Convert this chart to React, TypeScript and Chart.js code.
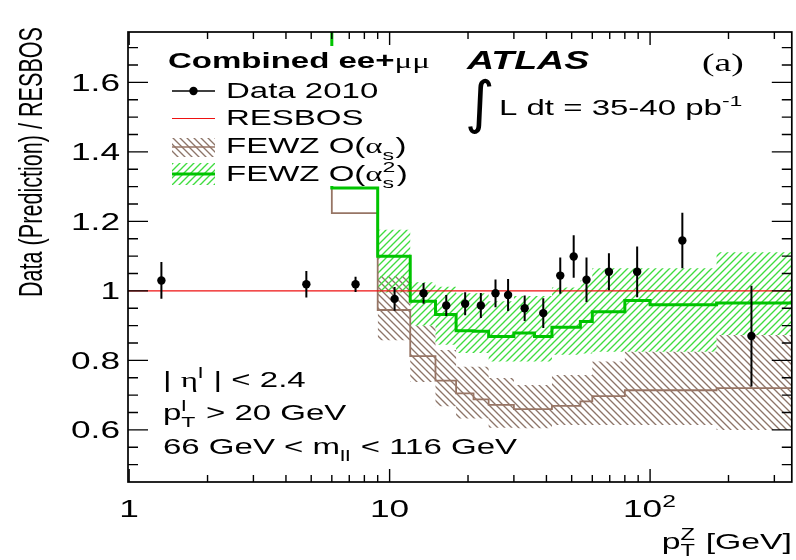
import React, { useEffect, useRef } from "react";
import { Chart, registerables } from "chart.js";

Chart.register(...registerables);

// ---------------- data ----------------
const dataX = [1.33, 4.79, 7.4, 10.45, 13.5, 16.5, 19.5, 22.4, 25.5, 28.5, 33, 38.9, 45.2, 50.9, 57, 69.5, 89.2, 133, 245];
const dataY = [1.03, 1.019, 1.019, 0.977, 0.993, 0.958, 0.963, 0.958, 0.993, 0.988, 0.95, 0.936, 1.044, 1.099, 1.032, 1.055, 1.055, 1.145, 0.87];
const dataErr = [0.053, 0.038, 0.022, 0.034, 0.03, 0.03, 0.033, 0.036, 0.04, 0.046, 0.037, 0.043, 0.052, 0.061, 0.064, 0.053, 0.073, 0.08, 0.145];

const fewzEdges = [3, 6, 9, 12, 15, 18, 21, 24, 27, 30, 36, 42, 48, 54, 60, 70, 80, 100, 180, 350];
const fewz2Central = [2.0, 1.296, 1.1, 0.97, 0.932, 0.885, 0.884, 0.869, 0.869, 0.879, 0.869, 0.895, 0.895, 0.912, 0.94, 0.94, 0.972, 0.96, 0.965];
const fewz1Central = [2.0, 1.224, 0.945, 0.812, 0.742, 0.705, 0.688, 0.672, 0.672, 0.66, 0.66, 0.669, 0.669, 0.682, 0.697, 0.697, 0.714, 0.714, 0.72];

const bandEdges = [9, 12, 15, 18, 21, 24, 27, 30, 36, 42, 48, 54, 60, 70, 80, 100, 180, 350];
const fewz2Upper = [1.176, 1.025, 1.012, 0.993, 0.993, 0.97, 0.97, 0.985, 0.985, 1.01, 1.01, 1.03, 1.065, 1.065, 1.065, 1.065, 1.111];
const fewz2Lower = [0.995, 0.9, 0.845, 0.821, 0.821, 0.797, 0.797, 0.797, 0.797, 0.816, 0.816, 0.82, 0.825, 0.825, 0.825, 0.825, 0.873];
const fewz1Upper = [1.043, 0.9, 0.83, 0.782, 0.782, 0.749, 0.749, 0.729, 0.729, 0.758, 0.758, 0.758, 0.797, 0.797, 0.825, 0.825, 0.873];
const fewz1Lower = [0.858, 0.738, 0.668, 0.633, 0.633, 0.606, 0.606, 0.605, 0.605, 0.614, 0.614, 0.614, 0.614, 0.614, 0.614, 0.614, 0.6];

const resbosX = [0.99, 350];
const resbosY = [1, 1];

const yMajorTicks = [0.6, 0.8, 1.0, 1.2, 1.4, 1.6];
const yTickLabels = ["0.6", "0.8", "1", "1.2", "1.4", "1.6"];
const xMajorTicks = [1, 10, 100];
const xTickLabels = ["1", "10", "10^2"];
const xMinorTicks = [2, 3, 4, 5, 6, 7, 8, 9, 20, 30, 40, 50, 60, 70, 80, 90, 200, 300];

// ---------------- styles ----------------
const SX = 1.5;
const FS = 22;
const TICK_FS = 23.5;
const GREEN_LINE = "#00c400";
const GREEN_HATCH = "#3fdc3f";
const BROWN_LINE = "#977565";
const BROWN_HATCH = "#8d7569";
const RED = "#ee1111";

type Seg = { t?: string; sup?: string; sub?: string; bold?: boolean; italic?: boolean; serif?: boolean; family?: string };

function fontStr(size: number, s: Seg) {
  const fam = s.family ? s.family : s.serif ? '"Liberation Serif"' : '"Liberation Sans"';
  return `${s.italic ? "italic " : ""}${s.bold ? "bold " : ""}${size}px ${fam}`;
}

function drawRich(
  ctx: CanvasRenderingContext2D,
  segs: Seg[],
  x: number,
  y: number,
  fs: number,
  align: "left" | "right" | "center" = "left",
  sx = SX
) {
  const fsS = fs * 0.7;
  const widths = segs.map((s) => {
    if (s.t !== undefined) {
      ctx.font = fontStr(fs, s);
      return ctx.measureText(s.t).width;
    }
    ctx.font = fontStr(fsS, s);
    const a = s.sup ? ctx.measureText(s.sup).width : 0;
    const b = s.sub ? ctx.measureText(s.sub).width : 0;
    return Math.max(a, b) + fs * 0.04;
  });
  const total = widths.reduce((a, b) => a + b, 0);
  let cx = align === "left" ? 0 : align === "right" ? -total : -total / 2;
  ctx.save();
  ctx.translate(x, y);
  ctx.scale(sx, 1);
  ctx.textAlign = "left";
  ctx.textBaseline = "alphabetic";
  segs.forEach((s, i) => {
    if (s.t !== undefined) {
      ctx.font = fontStr(fs, s);
      ctx.fillText(s.t, cx, 0);
    } else {
      ctx.font = fontStr(fsS, s);
      if (s.sup) ctx.fillText(s.sup, cx, -0.42 * fs);
      if (s.sub) ctx.fillText(s.sub, cx, 0.3 * fs);
    }
    cx += widths[i];
  });
  ctx.restore();
}

function stepPts(edges: number[], vals: number[]) {
  return edges.map((e, i) => ({ x: e, y: vals[Math.min(i, vals.length - 1)] }));
}

function makeHatch(main: CanvasRenderingContext2D, color: string, dir: 1 | -1, size = 7, lw = 1.35) {
  const c = document.createElement("canvas");
  c.width = size;
  c.height = size;
  const g = c.getContext("2d")!;
  g.strokeStyle = color;
  g.lineWidth = lw;
  g.beginPath();
  if (dir === 1) {
    g.moveTo(-1, size + 1);
    g.lineTo(size + 1, -1);
    g.moveTo(-size / 2 - 1, size / 2 + 1);
    g.lineTo(size / 2 + 1, -size / 2 - 1);
    g.moveTo(size / 2 - 1, size * 1.5 + 1);
    g.lineTo(size * 1.5 + 1, size / 2 - 1);
  } else {
    g.moveTo(-1, -1);
    g.lineTo(size + 1, size + 1);
    g.moveTo(-size / 2 - 1, size / 2 - 1);
    g.lineTo(size / 2 + 1, size * 1.5 + 1);
    g.moveTo(size / 2 - 1, -size / 2 - 1);
    g.lineTo(size * 1.5 + 1, size / 2 + 1);
  }
  g.stroke();
  return main.createPattern(c, "repeat")!;
}

export default function App() {
  const ref = useRef<HTMLCanvasElement | null>(null);

  useEffect(() => {
    const canvas = ref.current!;
    const mctx = canvas.getContext("2d")!;
    const greenHatch = makeHatch(mctx, GREEN_HATCH, 1);
    const brownHatch = makeHatch(mctx, BROWN_HATCH, -1);

    const overlay = {
      id: "overlay",
      afterDatasetsDraw(chart: any) {
        const ctx: CanvasRenderingContext2D = chart.ctx;
        const xs = chart.scales.x;
        const ys = chart.scales.y;
        const ca = chart.chartArea;

        // error bars
        ctx.save();
        ctx.beginPath();
        ctx.rect(ca.left, ca.top, ca.right - ca.left, ca.bottom - ca.top);
        ctx.clip();
        ctx.strokeStyle = "#000";
        ctx.lineWidth = 2;
        dataX.forEach((x, i) => {
          const px = xs.getPixelForValue(x);
          const t = ys.getPixelForValue(dataY[i] + dataErr[i]);
          const b = ys.getPixelForValue(dataY[i] - dataErr[i]);
          ctx.beginPath();
          ctx.moveTo(px, t);
          ctx.lineTo(px, b);
          ctx.stroke();
        });
        ctx.restore();

        // legend box
        ctx.save();
        ctx.fillStyle = "#fff";
        ctx.fillRect(160, 46, 285, 140);

        // legend symbols
        ctx.strokeStyle = "#000";
        ctx.lineWidth = 1.5;
        ctx.beginPath();
        ctx.moveTo(172, 91);
        ctx.lineTo(215, 91);
        ctx.stroke();
        ctx.fillStyle = "#000";
        ctx.beginPath();
        ctx.arc(193.5, 91, 4.2, 0, Math.PI * 2);
        ctx.fill();

        ctx.strokeStyle = RED;
        ctx.lineWidth = 1.2;
        ctx.beginPath();
        ctx.moveTo(172, 118.5);
        ctx.lineTo(215, 118.5);
        ctx.stroke();

        ctx.fillStyle = brownHatch;
        ctx.fillRect(172, 138, 43, 19);
        ctx.strokeStyle = BROWN_LINE;
        ctx.lineWidth = 1.6;
        ctx.beginPath();
        ctx.moveTo(172, 147);
        ctx.lineTo(215, 147);
        ctx.stroke();

        ctx.fillStyle = greenHatch;
        ctx.fillRect(172, 163, 43, 22);
        ctx.strokeStyle = GREEN_LINE;
        ctx.lineWidth = 3;
        ctx.beginPath();
        ctx.moveTo(172, 174);
        ctx.lineTo(215, 174);
        ctx.stroke();
        ctx.restore();

        ctx.save();
        ctx.fillStyle = "#000";
        // legend texts
        drawRich(ctx, [{ t: "Combined ee+", bold: true }, { t: "μμ", serif: true }], 168, 68, FS);
        drawRich(ctx, [{ t: "Data 2010" }], 226, 98, FS);
        drawRich(ctx, [{ t: "RESBOS" }], 226, 125, FS);
        drawRich(ctx, [{ t: "FEWZ O(" }, { t: "α", serif: true }, { sub: "s" }, { t: ")" }], 226, 153, FS);
        drawRich(ctx, [{ t: "FEWZ O(" }, { t: "α", serif: true }, { sup: "2", sub: "s" }, { t: ")" }], 226, 181, FS);

        // ATLAS label
        drawRich(ctx, [{ t: "ATLAS", bold: true, italic: true }], 467, 69, 25);
        drawRich(ctx, [{ t: "(a)", serif: true }], 702, 71, 25);
        drawRich(ctx, [{ t: "∫", family: '"DejaVu Sans"' }], 465, 122, 57, "left", 1);
        drawRich(ctx, [{ t: "L dt = 35-40 pb" }, { sup: "-1" }], 499, 115, FS);

        // cuts
        drawRich(ctx, [{ t: "| " }, { t: "η", serif: true }, { sup: "l" }, { t: " | < 2.4" }], 163, 387, FS);
        drawRich(ctx, [{ t: "p" }, { sup: "l", sub: "T" }, { t: " > 20 GeV" }], 163, 420, FS);
        drawRich(ctx, [{ t: "66 GeV < m" }, { sub: "ll" }, { t: " < 116 GeV" }], 163, 454, FS);

        // frame
        ctx.strokeStyle = "#000";
        ctx.lineWidth = 1.7;
        ctx.strokeRect(ca.left, ca.top, ca.right - ca.left, ca.bottom - ca.top);

        // y ticks
        ctx.lineWidth = 1.4;
        ctx.beginPath();
        for (let v = 0.5; v < 1.745; v += 0.05) {
          const vv = Math.round(v * 100) / 100;
          const py = ys.getPixelForValue(vv);
          const major = yMajorTicks.some((m) => Math.abs(m - vv) < 1e-6);
          const len = major ? 20 : 10;
          ctx.moveTo(ca.left, py);
          ctx.lineTo(ca.left + len, py);
          ctx.moveTo(ca.right, py);
          ctx.lineTo(ca.right - len, py);
        }
        // x ticks
        xMajorTicks.forEach((v) => {
          const px = xs.getPixelForValue(v);
          if (px < ca.left + 1) return;
          ctx.moveTo(px, ca.bottom);
          ctx.lineTo(px, ca.bottom - 13);
          ctx.moveTo(px, ca.top);
          ctx.lineTo(px, ca.top + 13);
        });
        xMinorTicks.forEach((v) => {
          const px = xs.getPixelForValue(v);
          ctx.moveTo(px, ca.bottom);
          ctx.lineTo(px, ca.bottom - 7);
          ctx.moveTo(px, ca.top);
          ctx.lineTo(px, ca.top + 7);
        });
        ctx.stroke();

        // tick labels
        yMajorTicks.forEach((v, i) => {
          const py = ys.getPixelForValue(v);
          drawRich(ctx, [{ t: yTickLabels[i] }], 120, py + 8.5, TICK_FS, "right");
        });
        xMajorTicks.forEach((v, i) => {
          const px = xs.getPixelForValue(v);
          const parts = xTickLabels[i].split("^");
          const segs: Seg[] = parts.length > 1 ? [{ t: parts[0] }, { sup: parts[1] }] : [{ t: parts[0] }];
          drawRich(ctx, segs, px, 517, TICK_FS, "center");
        });

        // axis titles
        drawRich(ctx, [{ t: "p" }, { sup: "Z", sub: "T" }, { t: " [GeV]" }], 792, 549, 22.5, "right");

        ctx.save();
        ctx.translate(42, 27);
        ctx.scale(SX, 1);
        ctx.rotate(-Math.PI / 2);
        ctx.font = '21.6px "Liberation Sans"';
        ctx.textAlign = "right";
        ctx.textBaseline = "alphabetic";
        ctx.fillText("Data (Prediction) / RESBOS", 0, 0);
        ctx.restore();

        ctx.restore();
      },
    };

    const chart = new Chart(canvas, {
      type: "line",
      data: {
        datasets: [
          {
            label: "Data 2010",
            data: dataX.map((x, i) => ({ x, y: dataY[i] })),
            showLine: false,
            pointRadius: 4.2,
            pointBackgroundColor: "#000",
            pointBorderColor: "#000",
            pointBorderWidth: 0,
            order: 0,
          },
          {
            label: "RESBOS",
            data: resbosX.map((x, i) => ({ x, y: resbosY[i] })),
            borderColor: RED,
            borderWidth: 1.2,
            pointRadius: 0,
            order: 1,
          },
          {
            label: "FEWZ O(as2)",
            data: stepPts(fewzEdges, fewz2Central),
            stepped: "before",
            borderColor: GREEN_LINE,
            borderWidth: 3,
            pointRadius: 0,
            order: 2,
          },
          {
            label: "FEWZ O(as)",
            data: stepPts(fewzEdges, fewz1Central),
            stepped: "before",
            borderColor: BROWN_LINE,
            borderWidth: 1.8,
            pointRadius: 0,
            order: 3,
          },
          {
            label: "fewz2 up",
            data: stepPts(bandEdges, fewz2Upper),
            stepped: "before",
            borderColor: "rgba(0,0,0,0)",
            borderWidth: 0,
            pointRadius: 0,
            fill: "+1",
            backgroundColor: greenHatch as any,
            order: 4,
          },
          {
            label: "fewz2 lo",
            data: stepPts(bandEdges, fewz2Lower),
            stepped: "before",
            borderColor: "rgba(0,0,0,0)",
            borderWidth: 0,
            pointRadius: 0,
            fill: false,
            order: 4,
          },
          {
            label: "fewz1 up",
            data: stepPts(bandEdges, fewz1Upper),
            stepped: "before",
            borderColor: "rgba(0,0,0,0)",
            borderWidth: 0,
            pointRadius: 0,
            fill: "+1",
            backgroundColor: brownHatch as any,
            order: 5,
          },
          {
            label: "fewz1 lo",
            data: stepPts(bandEdges, fewz1Lower),
            stepped: "before",
            borderColor: "rgba(0,0,0,0)",
            borderWidth: 0,
            pointRadius: 0,
            fill: false,
            order: 5,
          },
        ],
      },
      options: {
        responsive: false,
        animation: false,
        events: [],
        layout: { padding: { left: 128, top: 32, right: 1, bottom: 78 } },
        plugins: { legend: { display: false }, tooltip: { enabled: false } },
        scales: {
          x: { type: "logarithmic", min: 0.99, max: 350, display: false },
          y: { type: "linear", min: 0.45, max: 1.745, display: false },
        },
      },
      plugins: [overlay],
    });

    return () => chart.destroy();
  }, []);

  return (
    <div style={{ position: "fixed", left: 0, top: 0, width: 796, height: 560, background: "#fff" }}>
      <canvas ref={ref} width={796} height={560} style={{ display: "block" }} />
    </div>
  );
}
